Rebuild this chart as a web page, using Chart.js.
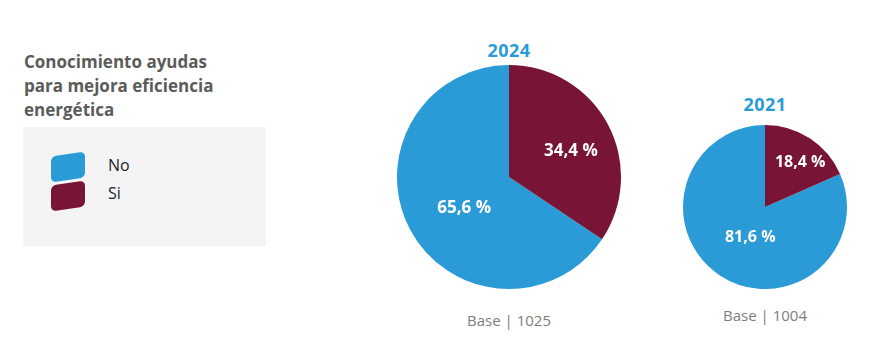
<!DOCTYPE html>
<html>
<head>
<meta charset="utf-8">
<script src="https://cdn.jsdelivr.net/npm/chart.js@4"></script>
<style>
  html, body { margin:0; padding:0; background:#fff; width:869px; height:361px; overflow:hidden; font-family:"Open Sans", sans-serif; }
  #title { position:absolute; left:24px; top:50px; font-weight:700; font-size:17px; line-height:24px; color:#5b5b5b; }
  #legendBox { position:absolute; left:23px; top:127px; width:243px; height:119px; background:#f4f4f4; }
  .sw { position:absolute; left:28px; width:34px; height:26px; border-radius:5px; transform:skewY(-8deg); }
  .lt { position:absolute; left:85px; font-size:16px; color:#1d1d2b; }
  .yr { position:absolute; font-weight:700; font-size:18px; letter-spacing:0.5px; color:#2a9bd6; text-align:center; width:120px; }
  .base { position:absolute; font-size:15px; color:#7d7d7d; text-align:center; width:160px; }
  canvas { position:absolute; }
</style>
</head>
<body>
<div id="title">Conocimiento ayudas<br>para mejora eficiencia<br>energética</div>
<div id="legendBox">
  <div class="sw" style="top:27px;background:#2a9bd6"></div>
  <div class="lt" style="top:27px">No</div>
  <div class="sw" style="top:56px;background:#781436"></div>
  <div class="lt" style="top:55px">Si</div>
</div>
<div class="yr" style="left:449px;top:38px">2024</div>
<div class="yr" style="left:705px;top:92px">2021</div>
<div class="base" style="left:429px;top:310px">Base | 1025</div>
<div class="base" style="left:685px;top:305px">Base | 1004</div>
<canvas id="c2024" style="left:397px;top:65px"></canvas>
<canvas id="c2021" style="left:683px;top:125px"></canvas>
<script>
const categories = ["No", "Si"];
const values2024 = [65.6, 34.4];
const values2021 = [81.6, 18.4];
const colors = ["#2a9bd6", "#781436"];

const labelPlugin = {
  id: "sliceLabels",
  afterDatasetsDraw(chart, args, opts) {
    const ctx = chart.ctx;
    const meta = chart.getDatasetMeta(0);
    const data = chart.data.datasets[0].data;
    ctx.save();
    ctx.fillStyle = "#ffffff";
    ctx.font = "700 " + opts.size + "px 'Open Sans', sans-serif";
    ctx.textAlign = "center";
    ctx.textBaseline = "middle";
    meta.data.forEach((arc, i) => {
      const p = arc.getProps(["x","y","startAngle","endAngle","outerRadius"], true);
      const a = (p.startAngle + p.endAngle) / 2 + (opts.angleShift ? opts.angleShift[i] : 0);
      const r = p.outerRadius * opts.radiusFrac[i];
      const txt = data[i].toFixed(1).replace(".", ",") + " %";
      ctx.fillText(txt, p.x + Math.cos(a) * r, p.y + Math.sin(a) * r);
    });
    ctx.restore();
  }
};

function makePie(id, size, values, radiusFrac, angleShift, fontSize) {
  const cv = document.getElementById(id);
  cv.width = size; cv.height = size;
  cv.style.width = size + "px"; cv.style.height = size + "px";
  const total = values.reduce((s, v) => s + v, 0);
  // "Si" slice starts at 12 o'clock and runs clockwise; "No" fills the rest
  const rotation = values[1] / total * 360;
  return new Chart(cv, {
    type: "pie",
    data: { labels: categories, datasets: [{ data: values, backgroundColor: colors, borderWidth: 0 }] },
    options: {
      responsive: false,
      animation: false,
      rotation: rotation,
      layout: { padding: 0 },
      plugins: {
        legend: { display: false },
        tooltip: { enabled: false },
        sliceLabels: { radiusFrac, angleShift, size: fontSize }
      }
    },
    plugins: [labelPlugin]
  });
}

makePie("c2024", 224, values2024, [0.49, 0.6], [-0.124, 0.089], 17);
makePie("c2021", 164, values2021, [0.41, 0.69], [-0.124, 0.094], 16);
</script>
</body>
</html>
